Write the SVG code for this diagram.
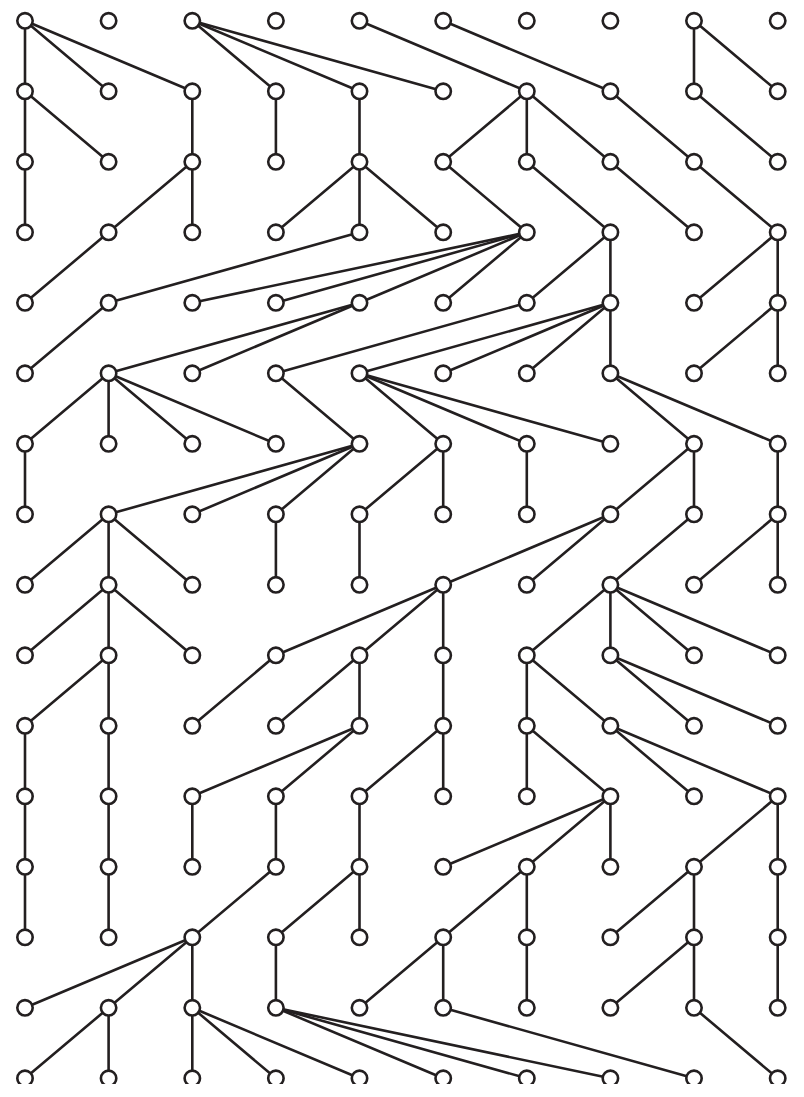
<svg xmlns="http://www.w3.org/2000/svg" width="804" height="1097" viewBox="0 0 804 1097">
<style>
.e line{stroke:#231f20;stroke-width:2.6;stroke-linecap:round;fill:none}
.n circle{fill:#fff;stroke:#231f20;stroke-width:2.6}
</style>
<defs><clipPath id="clip"><rect x="0" y="0" width="804" height="1084"/></clipPath></defs>
<rect width="804" height="1097" fill="#fff"/>
<g clip-path="url(#clip)">
<g id="connectors" class="e">
<line x1="25" y1="20.8" x2="25" y2="91.3"/>
<line x1="25" y1="20.8" x2="108.6" y2="91.3"/>
<line x1="25" y1="20.8" x2="192.3" y2="91.3"/>
<line x1="192.3" y1="20.8" x2="275.9" y2="91.3"/>
<line x1="192.3" y1="20.8" x2="359.5" y2="91.3"/>
<line x1="192.3" y1="20.8" x2="443.2" y2="91.3"/>
<line x1="359.5" y1="20.8" x2="526.8" y2="91.3"/>
<line x1="443.2" y1="20.8" x2="610.4" y2="91.3"/>
<line x1="694" y1="20.8" x2="694" y2="91.3"/>
<line x1="694" y1="20.8" x2="777.7" y2="91.3"/>
<line x1="25" y1="91.3" x2="25" y2="161.8"/>
<line x1="25" y1="91.3" x2="108.6" y2="161.8"/>
<line x1="192.3" y1="91.3" x2="192.3" y2="161.8"/>
<line x1="275.9" y1="91.3" x2="275.9" y2="161.8"/>
<line x1="359.5" y1="91.3" x2="359.5" y2="161.8"/>
<line x1="526.8" y1="91.3" x2="443.2" y2="161.8"/>
<line x1="526.8" y1="91.3" x2="526.8" y2="161.8"/>
<line x1="526.8" y1="91.3" x2="610.4" y2="161.8"/>
<line x1="610.4" y1="91.3" x2="694" y2="161.8"/>
<line x1="694" y1="91.3" x2="777.7" y2="161.8"/>
<line x1="25" y1="161.8" x2="25" y2="232.3"/>
<line x1="192.3" y1="161.8" x2="108.6" y2="232.3"/>
<line x1="192.3" y1="161.8" x2="192.3" y2="232.3"/>
<line x1="359.5" y1="161.8" x2="275.9" y2="232.3"/>
<line x1="359.5" y1="161.8" x2="359.5" y2="232.3"/>
<line x1="359.5" y1="161.8" x2="443.2" y2="232.3"/>
<line x1="443.2" y1="161.8" x2="526.8" y2="232.3"/>
<line x1="526.8" y1="161.8" x2="610.4" y2="232.3"/>
<line x1="610.4" y1="161.8" x2="694" y2="232.3"/>
<line x1="694" y1="161.8" x2="777.7" y2="232.3"/>
<line x1="108.6" y1="232.3" x2="25" y2="302.8"/>
<line x1="359.5" y1="232.3" x2="108.6" y2="302.8"/>
<line x1="526.8" y1="232.3" x2="192.3" y2="302.8"/>
<line x1="526.8" y1="232.3" x2="275.9" y2="302.8"/>
<line x1="526.8" y1="232.3" x2="359.5" y2="302.8"/>
<line x1="526.8" y1="232.3" x2="443.2" y2="302.8"/>
<line x1="610.4" y1="232.3" x2="526.8" y2="302.8"/>
<line x1="610.4" y1="232.3" x2="610.4" y2="302.8"/>
<line x1="777.7" y1="232.3" x2="694" y2="302.8"/>
<line x1="777.7" y1="232.3" x2="777.7" y2="302.8"/>
<line x1="108.6" y1="302.8" x2="25" y2="373.3"/>
<line x1="359.5" y1="302.8" x2="108.6" y2="373.3"/>
<line x1="359.5" y1="302.8" x2="192.3" y2="373.3"/>
<line x1="526.8" y1="302.8" x2="275.9" y2="373.3"/>
<line x1="610.4" y1="302.8" x2="359.5" y2="373.3"/>
<line x1="610.4" y1="302.8" x2="443.2" y2="373.3"/>
<line x1="610.4" y1="302.8" x2="526.8" y2="373.3"/>
<line x1="610.4" y1="302.8" x2="610.4" y2="373.3"/>
<line x1="777.7" y1="302.8" x2="694" y2="373.3"/>
<line x1="777.7" y1="302.8" x2="777.7" y2="373.3"/>
<line x1="108.6" y1="373.3" x2="25" y2="443.8"/>
<line x1="108.6" y1="373.3" x2="108.6" y2="443.8"/>
<line x1="108.6" y1="373.3" x2="192.3" y2="443.8"/>
<line x1="108.6" y1="373.3" x2="275.9" y2="443.8"/>
<line x1="275.9" y1="373.3" x2="359.5" y2="443.8"/>
<line x1="359.5" y1="373.3" x2="443.2" y2="443.8"/>
<line x1="359.5" y1="373.3" x2="526.8" y2="443.8"/>
<line x1="359.5" y1="373.3" x2="610.4" y2="443.8"/>
<line x1="610.4" y1="373.3" x2="694" y2="443.8"/>
<line x1="610.4" y1="373.3" x2="777.7" y2="443.8"/>
<line x1="25" y1="443.8" x2="25" y2="514.3"/>
<line x1="359.5" y1="443.8" x2="108.6" y2="514.3"/>
<line x1="359.5" y1="443.8" x2="192.3" y2="514.3"/>
<line x1="359.5" y1="443.8" x2="275.9" y2="514.3"/>
<line x1="443.2" y1="443.8" x2="359.5" y2="514.3"/>
<line x1="443.2" y1="443.8" x2="443.2" y2="514.3"/>
<line x1="526.8" y1="443.8" x2="526.8" y2="514.3"/>
<line x1="694" y1="443.8" x2="610.4" y2="514.3"/>
<line x1="694" y1="443.8" x2="694" y2="514.3"/>
<line x1="777.7" y1="443.8" x2="777.7" y2="514.3"/>
<line x1="108.6" y1="514.3" x2="25" y2="584.8"/>
<line x1="108.6" y1="514.3" x2="108.6" y2="584.8"/>
<line x1="108.6" y1="514.3" x2="192.3" y2="584.8"/>
<line x1="275.9" y1="514.3" x2="275.9" y2="584.8"/>
<line x1="359.5" y1="514.3" x2="359.5" y2="584.8"/>
<line x1="610.4" y1="514.3" x2="443.2" y2="584.8"/>
<line x1="610.4" y1="514.3" x2="526.8" y2="584.8"/>
<line x1="694" y1="514.3" x2="610.4" y2="584.8"/>
<line x1="777.7" y1="514.3" x2="694" y2="584.8"/>
<line x1="777.7" y1="514.3" x2="777.7" y2="584.8"/>
<line x1="108.6" y1="584.8" x2="25" y2="655.3"/>
<line x1="108.6" y1="584.8" x2="108.6" y2="655.3"/>
<line x1="108.6" y1="584.8" x2="192.3" y2="655.3"/>
<line x1="443.2" y1="584.8" x2="275.9" y2="655.3"/>
<line x1="443.2" y1="584.8" x2="359.5" y2="655.3"/>
<line x1="443.2" y1="584.8" x2="443.2" y2="655.3"/>
<line x1="610.4" y1="584.8" x2="526.8" y2="655.3"/>
<line x1="610.4" y1="584.8" x2="610.4" y2="655.3"/>
<line x1="610.4" y1="584.8" x2="694" y2="655.3"/>
<line x1="610.4" y1="584.8" x2="777.7" y2="655.3"/>
<line x1="108.6" y1="655.3" x2="25" y2="725.8"/>
<line x1="108.6" y1="655.3" x2="108.6" y2="725.8"/>
<line x1="275.9" y1="655.3" x2="192.3" y2="725.8"/>
<line x1="359.5" y1="655.3" x2="275.9" y2="725.8"/>
<line x1="359.5" y1="655.3" x2="359.5" y2="725.8"/>
<line x1="443.2" y1="655.3" x2="443.2" y2="725.8"/>
<line x1="526.8" y1="655.3" x2="526.8" y2="725.8"/>
<line x1="526.8" y1="655.3" x2="610.4" y2="725.8"/>
<line x1="610.4" y1="655.3" x2="694" y2="725.8"/>
<line x1="610.4" y1="655.3" x2="777.7" y2="725.8"/>
<line x1="25" y1="725.8" x2="25" y2="796.3"/>
<line x1="108.6" y1="725.8" x2="108.6" y2="796.3"/>
<line x1="359.5" y1="725.8" x2="192.3" y2="796.3"/>
<line x1="359.5" y1="725.8" x2="275.9" y2="796.3"/>
<line x1="443.2" y1="725.8" x2="359.5" y2="796.3"/>
<line x1="443.2" y1="725.8" x2="443.2" y2="796.3"/>
<line x1="526.8" y1="725.8" x2="526.8" y2="796.3"/>
<line x1="526.8" y1="725.8" x2="610.4" y2="796.3"/>
<line x1="610.4" y1="725.8" x2="694" y2="796.3"/>
<line x1="610.4" y1="725.8" x2="777.7" y2="796.3"/>
<line x1="25" y1="796.3" x2="25" y2="866.8"/>
<line x1="108.6" y1="796.3" x2="108.6" y2="866.8"/>
<line x1="192.3" y1="796.3" x2="192.3" y2="866.8"/>
<line x1="275.9" y1="796.3" x2="275.9" y2="866.8"/>
<line x1="359.5" y1="796.3" x2="359.5" y2="866.8"/>
<line x1="610.4" y1="796.3" x2="443.2" y2="866.8"/>
<line x1="610.4" y1="796.3" x2="526.8" y2="866.8"/>
<line x1="610.4" y1="796.3" x2="610.4" y2="866.8"/>
<line x1="777.7" y1="796.3" x2="694" y2="866.8"/>
<line x1="777.7" y1="796.3" x2="777.7" y2="866.8"/>
<line x1="25" y1="866.8" x2="25" y2="937.3"/>
<line x1="108.6" y1="866.8" x2="108.6" y2="937.3"/>
<line x1="275.9" y1="866.8" x2="192.3" y2="937.3"/>
<line x1="359.5" y1="866.8" x2="275.9" y2="937.3"/>
<line x1="359.5" y1="866.8" x2="359.5" y2="937.3"/>
<line x1="526.8" y1="866.8" x2="443.2" y2="937.3"/>
<line x1="526.8" y1="866.8" x2="526.8" y2="937.3"/>
<line x1="694" y1="866.8" x2="610.4" y2="937.3"/>
<line x1="694" y1="866.8" x2="694" y2="937.3"/>
<line x1="777.7" y1="866.8" x2="777.7" y2="937.3"/>
<line x1="192.3" y1="937.3" x2="25" y2="1007.8"/>
<line x1="192.3" y1="937.3" x2="108.6" y2="1007.8"/>
<line x1="192.3" y1="937.3" x2="192.3" y2="1007.8"/>
<line x1="275.9" y1="937.3" x2="275.9" y2="1007.8"/>
<line x1="443.2" y1="937.3" x2="359.5" y2="1007.8"/>
<line x1="443.2" y1="937.3" x2="443.2" y2="1007.8"/>
<line x1="526.8" y1="937.3" x2="526.8" y2="1007.8"/>
<line x1="694" y1="937.3" x2="610.4" y2="1007.8"/>
<line x1="694" y1="937.3" x2="694" y2="1007.8"/>
<line x1="777.7" y1="937.3" x2="777.7" y2="1007.8"/>
<line x1="108.6" y1="1007.8" x2="25" y2="1078.3"/>
<line x1="108.6" y1="1007.8" x2="108.6" y2="1078.3"/>
<line x1="192.3" y1="1007.8" x2="192.3" y2="1078.3"/>
<line x1="192.3" y1="1007.8" x2="275.9" y2="1078.3"/>
<line x1="192.3" y1="1007.8" x2="359.5" y2="1078.3"/>
<line x1="275.9" y1="1007.8" x2="443.2" y2="1078.3"/>
<line x1="275.9" y1="1007.8" x2="526.8" y2="1078.3"/>
<line x1="275.9" y1="1007.8" x2="610.4" y2="1078.3"/>
<line x1="443.2" y1="1007.8" x2="694" y2="1078.3"/>
<line x1="694" y1="1007.8" x2="777.7" y2="1078.3"/>
</g>
<g id="nodes" class="n">
<g id="n0-0"><circle cx="25" cy="20.8" r="7.7"/></g><g id="n1-0"><circle cx="108.6" cy="20.8" r="7.7"/></g><g id="n2-0"><circle cx="192.3" cy="20.8" r="7.7"/></g><g id="n3-0"><circle cx="275.9" cy="20.8" r="7.7"/></g><g id="n4-0"><circle cx="359.5" cy="20.8" r="7.7"/></g><g id="n5-0"><circle cx="443.2" cy="20.8" r="7.7"/></g><g id="n6-0"><circle cx="526.8" cy="20.8" r="7.7"/></g><g id="n7-0"><circle cx="610.4" cy="20.8" r="7.7"/></g><g id="n8-0"><circle cx="694" cy="20.8" r="7.7"/></g><g id="n9-0"><circle cx="777.7" cy="20.8" r="7.7"/></g>
<g id="n0-1"><circle cx="25" cy="91.3" r="7.7"/></g><g id="n1-1"><circle cx="108.6" cy="91.3" r="7.7"/></g><g id="n2-1"><circle cx="192.3" cy="91.3" r="7.7"/></g><g id="n3-1"><circle cx="275.9" cy="91.3" r="7.7"/></g><g id="n4-1"><circle cx="359.5" cy="91.3" r="7.7"/></g><g id="n5-1"><circle cx="443.2" cy="91.3" r="7.7"/></g><g id="n6-1"><circle cx="526.8" cy="91.3" r="7.7"/></g><g id="n7-1"><circle cx="610.4" cy="91.3" r="7.7"/></g><g id="n8-1"><circle cx="694" cy="91.3" r="7.7"/></g><g id="n9-1"><circle cx="777.7" cy="91.3" r="7.7"/></g>
<g id="n0-2"><circle cx="25" cy="161.8" r="7.7"/></g><g id="n1-2"><circle cx="108.6" cy="161.8" r="7.7"/></g><g id="n2-2"><circle cx="192.3" cy="161.8" r="7.7"/></g><g id="n3-2"><circle cx="275.9" cy="161.8" r="7.7"/></g><g id="n4-2"><circle cx="359.5" cy="161.8" r="7.7"/></g><g id="n5-2"><circle cx="443.2" cy="161.8" r="7.7"/></g><g id="n6-2"><circle cx="526.8" cy="161.8" r="7.7"/></g><g id="n7-2"><circle cx="610.4" cy="161.8" r="7.7"/></g><g id="n8-2"><circle cx="694" cy="161.8" r="7.7"/></g><g id="n9-2"><circle cx="777.7" cy="161.8" r="7.7"/></g>
<g id="n0-3"><circle cx="25" cy="232.3" r="7.7"/></g><g id="n1-3"><circle cx="108.6" cy="232.3" r="7.7"/></g><g id="n2-3"><circle cx="192.3" cy="232.3" r="7.7"/></g><g id="n3-3"><circle cx="275.9" cy="232.3" r="7.7"/></g><g id="n4-3"><circle cx="359.5" cy="232.3" r="7.7"/></g><g id="n5-3"><circle cx="443.2" cy="232.3" r="7.7"/></g><g id="n6-3"><circle cx="526.8" cy="232.3" r="7.7"/></g><g id="n7-3"><circle cx="610.4" cy="232.3" r="7.7"/></g><g id="n8-3"><circle cx="694" cy="232.3" r="7.7"/></g><g id="n9-3"><circle cx="777.7" cy="232.3" r="7.7"/></g>
<g id="n0-4"><circle cx="25" cy="302.8" r="7.7"/></g><g id="n1-4"><circle cx="108.6" cy="302.8" r="7.7"/></g><g id="n2-4"><circle cx="192.3" cy="302.8" r="7.7"/></g><g id="n3-4"><circle cx="275.9" cy="302.8" r="7.7"/></g><g id="n4-4"><circle cx="359.5" cy="302.8" r="7.7"/></g><g id="n5-4"><circle cx="443.2" cy="302.8" r="7.7"/></g><g id="n6-4"><circle cx="526.8" cy="302.8" r="7.7"/></g><g id="n7-4"><circle cx="610.4" cy="302.8" r="7.7"/></g><g id="n8-4"><circle cx="694" cy="302.8" r="7.7"/></g><g id="n9-4"><circle cx="777.7" cy="302.8" r="7.7"/></g>
<g id="n0-5"><circle cx="25" cy="373.3" r="7.7"/></g><g id="n1-5"><circle cx="108.6" cy="373.3" r="7.7"/></g><g id="n2-5"><circle cx="192.3" cy="373.3" r="7.7"/></g><g id="n3-5"><circle cx="275.9" cy="373.3" r="7.7"/></g><g id="n4-5"><circle cx="359.5" cy="373.3" r="7.7"/></g><g id="n5-5"><circle cx="443.2" cy="373.3" r="7.7"/></g><g id="n6-5"><circle cx="526.8" cy="373.3" r="7.7"/></g><g id="n7-5"><circle cx="610.4" cy="373.3" r="7.7"/></g><g id="n8-5"><circle cx="694" cy="373.3" r="7.7"/></g><g id="n9-5"><circle cx="777.7" cy="373.3" r="7.7"/></g>
<g id="n0-6"><circle cx="25" cy="443.8" r="7.7"/></g><g id="n1-6"><circle cx="108.6" cy="443.8" r="7.7"/></g><g id="n2-6"><circle cx="192.3" cy="443.8" r="7.7"/></g><g id="n3-6"><circle cx="275.9" cy="443.8" r="7.7"/></g><g id="n4-6"><circle cx="359.5" cy="443.8" r="7.7"/></g><g id="n5-6"><circle cx="443.2" cy="443.8" r="7.7"/></g><g id="n6-6"><circle cx="526.8" cy="443.8" r="7.7"/></g><g id="n7-6"><circle cx="610.4" cy="443.8" r="7.7"/></g><g id="n8-6"><circle cx="694" cy="443.8" r="7.7"/></g><g id="n9-6"><circle cx="777.7" cy="443.8" r="7.7"/></g>
<g id="n0-7"><circle cx="25" cy="514.3" r="7.7"/></g><g id="n1-7"><circle cx="108.6" cy="514.3" r="7.7"/></g><g id="n2-7"><circle cx="192.3" cy="514.3" r="7.7"/></g><g id="n3-7"><circle cx="275.9" cy="514.3" r="7.7"/></g><g id="n4-7"><circle cx="359.5" cy="514.3" r="7.7"/></g><g id="n5-7"><circle cx="443.2" cy="514.3" r="7.7"/></g><g id="n6-7"><circle cx="526.8" cy="514.3" r="7.7"/></g><g id="n7-7"><circle cx="610.4" cy="514.3" r="7.7"/></g><g id="n8-7"><circle cx="694" cy="514.3" r="7.7"/></g><g id="n9-7"><circle cx="777.7" cy="514.3" r="7.7"/></g>
<g id="n0-8"><circle cx="25" cy="584.8" r="7.7"/></g><g id="n1-8"><circle cx="108.6" cy="584.8" r="7.7"/></g><g id="n2-8"><circle cx="192.3" cy="584.8" r="7.7"/></g><g id="n3-8"><circle cx="275.9" cy="584.8" r="7.7"/></g><g id="n4-8"><circle cx="359.5" cy="584.8" r="7.7"/></g><g id="n5-8"><circle cx="443.2" cy="584.8" r="7.7"/></g><g id="n6-8"><circle cx="526.8" cy="584.8" r="7.7"/></g><g id="n7-8"><circle cx="610.4" cy="584.8" r="7.7"/></g><g id="n8-8"><circle cx="694" cy="584.8" r="7.7"/></g><g id="n9-8"><circle cx="777.7" cy="584.8" r="7.7"/></g>
<g id="n0-9"><circle cx="25" cy="655.3" r="7.7"/></g><g id="n1-9"><circle cx="108.6" cy="655.3" r="7.7"/></g><g id="n2-9"><circle cx="192.3" cy="655.3" r="7.7"/></g><g id="n3-9"><circle cx="275.9" cy="655.3" r="7.7"/></g><g id="n4-9"><circle cx="359.5" cy="655.3" r="7.7"/></g><g id="n5-9"><circle cx="443.2" cy="655.3" r="7.7"/></g><g id="n6-9"><circle cx="526.8" cy="655.3" r="7.7"/></g><g id="n7-9"><circle cx="610.4" cy="655.3" r="7.7"/></g><g id="n8-9"><circle cx="694" cy="655.3" r="7.7"/></g><g id="n9-9"><circle cx="777.7" cy="655.3" r="7.7"/></g>
<g id="n0-10"><circle cx="25" cy="725.8" r="7.7"/></g><g id="n1-10"><circle cx="108.6" cy="725.8" r="7.7"/></g><g id="n2-10"><circle cx="192.3" cy="725.8" r="7.7"/></g><g id="n3-10"><circle cx="275.9" cy="725.8" r="7.7"/></g><g id="n4-10"><circle cx="359.5" cy="725.8" r="7.7"/></g><g id="n5-10"><circle cx="443.2" cy="725.8" r="7.7"/></g><g id="n6-10"><circle cx="526.8" cy="725.8" r="7.7"/></g><g id="n7-10"><circle cx="610.4" cy="725.8" r="7.7"/></g><g id="n8-10"><circle cx="694" cy="725.8" r="7.7"/></g><g id="n9-10"><circle cx="777.7" cy="725.8" r="7.7"/></g>
<g id="n0-11"><circle cx="25" cy="796.3" r="7.7"/></g><g id="n1-11"><circle cx="108.6" cy="796.3" r="7.7"/></g><g id="n2-11"><circle cx="192.3" cy="796.3" r="7.7"/></g><g id="n3-11"><circle cx="275.9" cy="796.3" r="7.7"/></g><g id="n4-11"><circle cx="359.5" cy="796.3" r="7.7"/></g><g id="n5-11"><circle cx="443.2" cy="796.3" r="7.7"/></g><g id="n6-11"><circle cx="526.8" cy="796.3" r="7.7"/></g><g id="n7-11"><circle cx="610.4" cy="796.3" r="7.7"/></g><g id="n8-11"><circle cx="694" cy="796.3" r="7.7"/></g><g id="n9-11"><circle cx="777.7" cy="796.3" r="7.7"/></g>
<g id="n0-12"><circle cx="25" cy="866.8" r="7.7"/></g><g id="n1-12"><circle cx="108.6" cy="866.8" r="7.7"/></g><g id="n2-12"><circle cx="192.3" cy="866.8" r="7.7"/></g><g id="n3-12"><circle cx="275.9" cy="866.8" r="7.7"/></g><g id="n4-12"><circle cx="359.5" cy="866.8" r="7.7"/></g><g id="n5-12"><circle cx="443.2" cy="866.8" r="7.7"/></g><g id="n6-12"><circle cx="526.8" cy="866.8" r="7.7"/></g><g id="n7-12"><circle cx="610.4" cy="866.8" r="7.7"/></g><g id="n8-12"><circle cx="694" cy="866.8" r="7.7"/></g><g id="n9-12"><circle cx="777.7" cy="866.8" r="7.7"/></g>
<g id="n0-13"><circle cx="25" cy="937.3" r="7.7"/></g><g id="n1-13"><circle cx="108.6" cy="937.3" r="7.7"/></g><g id="n2-13"><circle cx="192.3" cy="937.3" r="7.7"/></g><g id="n3-13"><circle cx="275.9" cy="937.3" r="7.7"/></g><g id="n4-13"><circle cx="359.5" cy="937.3" r="7.7"/></g><g id="n5-13"><circle cx="443.2" cy="937.3" r="7.7"/></g><g id="n6-13"><circle cx="526.8" cy="937.3" r="7.7"/></g><g id="n7-13"><circle cx="610.4" cy="937.3" r="7.7"/></g><g id="n8-13"><circle cx="694" cy="937.3" r="7.7"/></g><g id="n9-13"><circle cx="777.7" cy="937.3" r="7.7"/></g>
<g id="n0-14"><circle cx="25" cy="1007.8" r="7.7"/></g><g id="n1-14"><circle cx="108.6" cy="1007.8" r="7.7"/></g><g id="n2-14"><circle cx="192.3" cy="1007.8" r="7.7"/></g><g id="n3-14"><circle cx="275.9" cy="1007.8" r="7.7"/></g><g id="n4-14"><circle cx="359.5" cy="1007.8" r="7.7"/></g><g id="n5-14"><circle cx="443.2" cy="1007.8" r="7.7"/></g><g id="n6-14"><circle cx="526.8" cy="1007.8" r="7.7"/></g><g id="n7-14"><circle cx="610.4" cy="1007.8" r="7.7"/></g><g id="n8-14"><circle cx="694" cy="1007.8" r="7.7"/></g><g id="n9-14"><circle cx="777.7" cy="1007.8" r="7.7"/></g>
<g id="n0-15"><circle cx="25" cy="1078.3" r="7.7"/></g><g id="n1-15"><circle cx="108.6" cy="1078.3" r="7.7"/></g><g id="n2-15"><circle cx="192.3" cy="1078.3" r="7.7"/></g><g id="n3-15"><circle cx="275.9" cy="1078.3" r="7.7"/></g><g id="n4-15"><circle cx="359.5" cy="1078.3" r="7.7"/></g><g id="n5-15"><circle cx="443.2" cy="1078.3" r="7.7"/></g><g id="n6-15"><circle cx="526.8" cy="1078.3" r="7.7"/></g><g id="n7-15"><circle cx="610.4" cy="1078.3" r="7.7"/></g><g id="n8-15"><circle cx="694" cy="1078.3" r="7.7"/></g><g id="n9-15"><circle cx="777.7" cy="1078.3" r="7.7"/></g>
</g>
</g>
</svg>
